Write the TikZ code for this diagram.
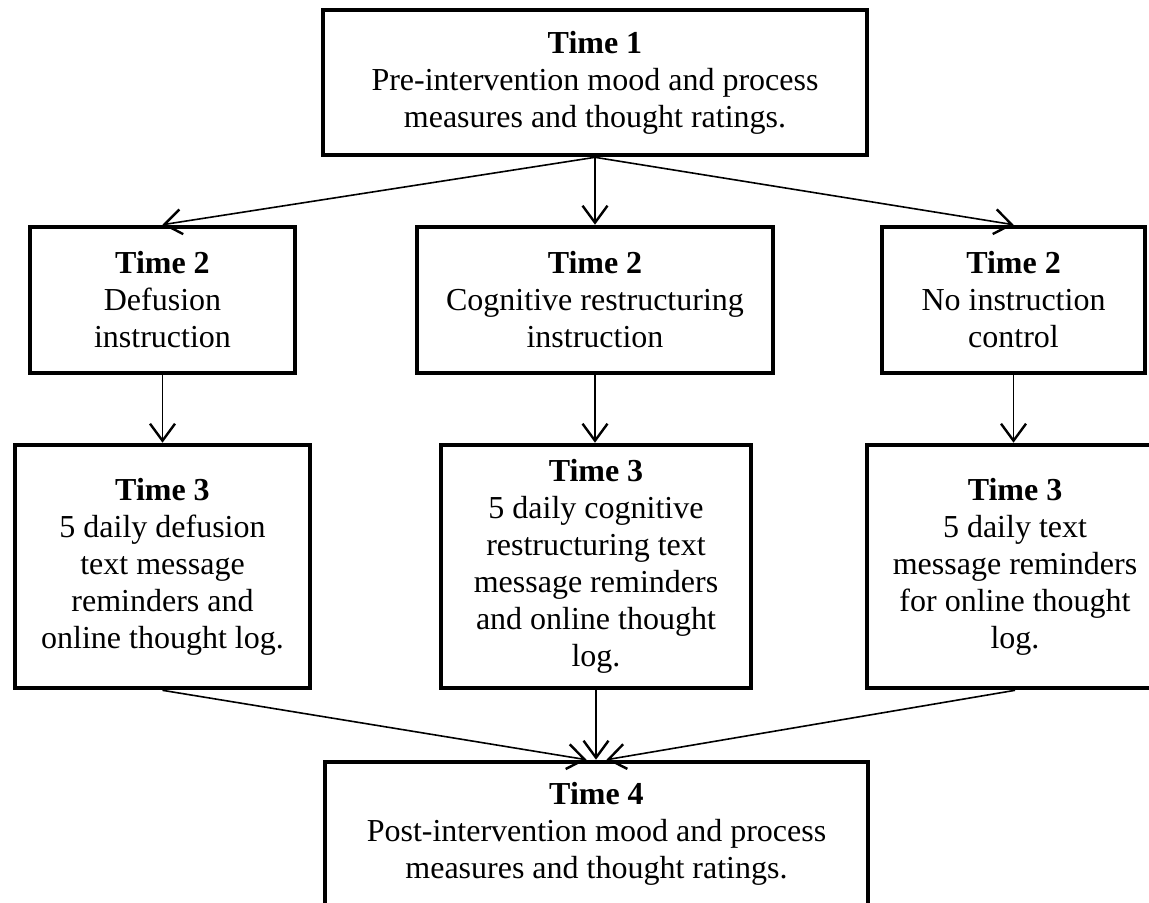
\documentclass[tikz,border=0pt]{standalone}
\usepackage{fontspec}
\setmainfont{Liberation Serif}
\usetikzlibrary{arrows.meta}

\tikzset{
  stagebox/.style={draw, line width=2.3pt, align=center, inner sep=0pt,
    font=\fontsize{16}{18.5}\selectfont},
  flow/.style={-{Straight Barb[length=8.5pt,width=12.5pt,line width=1.2pt]}, line width=0.8pt}
}

\begin{document}
\begin{tikzpicture}[x=0.5pt,y=-0.5pt]
  \useasboundingbox (0,0) rectangle (1149,902);
  % time 1
  \node[stagebox, minimum width=272pt, minimum height=72.5pt] (t1) at (595,82.5)
    {\textbf{Time 1}\\Pre-intervention mood and process\\measures and thought ratings.};
  % time 2
  \node[stagebox, minimum width=132.5pt, minimum height=73pt] (t2a) at (162.5,300)
    {\textbf{Time 2}\\Defusion\\instruction};
  \node[stagebox, minimum width=178pt, minimum height=73pt] (t2b) at (595,300)
    {\textbf{Time 2}\\Cognitive restructuring\\instruction};
  \node[stagebox, minimum width=131.5pt, minimum height=73pt] (t2c) at (1013.5,300)
    {\textbf{Time 2}\\No instruction\\control};
  % time 3
  \node[stagebox, minimum width=147.5pt, minimum height=121.5pt] (t3a) at (162.5,566.5)
    {\textbf{Time 3}\\5 daily defusion\\text message\\reminders and\\online thought log.};
  \node[stagebox, minimum width=155pt, minimum height=121.5pt] (t3b) at (596,566.5)
    {\textbf{Time 3}\\5 daily cognitive\\restructuring text\\message reminders\\and online thought\\log.};
  \node[stagebox, minimum width=148pt, minimum height=121.5pt] (t3c) at (1015,566.5)
    {\textbf{Time 3}\\5 daily text\\message reminders\\for online thought\\log.};
  % time 4
  \node[stagebox, minimum width=271.5pt, minimum height=72pt] (t4) at (596.5,834)
    {\textbf{Time 4}\\Post-intervention mood and process\\measures and thought ratings.};

  \draw[flow] (t1.south) -- (t2a.north);
  \draw[flow] (t1.south) -- (t2b.north);
  \draw[flow] (t1.south) -- (t2c.north);
  \draw[flow] (t2a) -- (t3a);
  \draw[flow] (t2b.south) -- (t2b.south|-t3b.north);
  \draw[flow] (t2c.south) -- (t2c.south|-t3c.north);
  \draw[flow] (t3a.south) -- ([xshift=-5pt]t4.north);
  \draw[flow] (t3b.south) -- (t3b.south|-t4.north);
  \draw[flow] (t3c.south) -- ([xshift=5pt]t4.north);
\end{tikzpicture}
\end{document}
